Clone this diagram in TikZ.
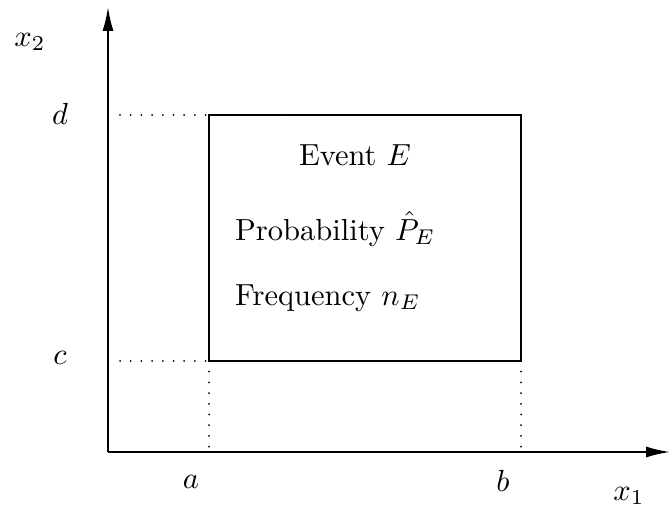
\documentclass[tikz,border=0pt]{standalone}
\usetikzlibrary{arrows.meta}
\newcommand{\bigtxt}[1]{\scalebox{3.05}{#1}}
\begin{document}
\begin{tikzpicture}[x=1pt,y=1pt,
  axis/.style={line width=1.8pt,-{Latex[length=24pt,width=11pt]}},
  boxline/.style={line width=1.8pt},
  guide/.style={line width=2pt,line cap=round,dash pattern=on 0pt off 10.7pt},
  lbl/.style={inner sep=0pt}]
\useasboundingbox (0,0) rectangle (670,512);
\coordinate (O) at (108,60);
\coordinate (ytop) at (108,505);
\coordinate (xend) at (670,60);
\draw[axis] (O) -- (ytop);
\draw[axis] (O) -- (xend);
\coordinate (A) at (209,151);
\coordinate (B) at (521,397);
\draw[boxline] (A) rectangle (B);
\coordinate (dL) at (120,397);
\coordinate (cL) at (120,151);
\coordinate (aB) at (209,62);
\coordinate (bB) at (521,62);
\coordinate (bT) at (521,151);
\draw[guide] (dL) -- (B |- dL);
\draw[guide] (cL) -- (A);
\draw[guide] (A) -- (aB);
\draw[guide] (bT) -- (bB);
\node[lbl] (x2) at (30,470) {\bigtxt{$x_2$}};
\node[lbl] (d) at (60,398) {\bigtxt{$d$}};
\node[lbl] (c) at (60,154) {\bigtxt{$c$}};
\node[lbl] (a) at (191,30) {\bigtxt{$a$}};
\node[lbl] (b) at (503,31) {\bigtxt{$b$}};
\node[lbl] (x1) at (629,16) {\bigtxt{$x_1$}};
\node[lbl] (ev) at (355,357) {\bigtxt{Event $E$}};
\node[lbl,anchor=west] (pr) at (235,283) {\bigtxt{Probability $\hat P_E$}};
\node[lbl,anchor=west] (fr) at (235,214) {\bigtxt{Frequency $n_E$}};
\end{tikzpicture}
\end{document}
